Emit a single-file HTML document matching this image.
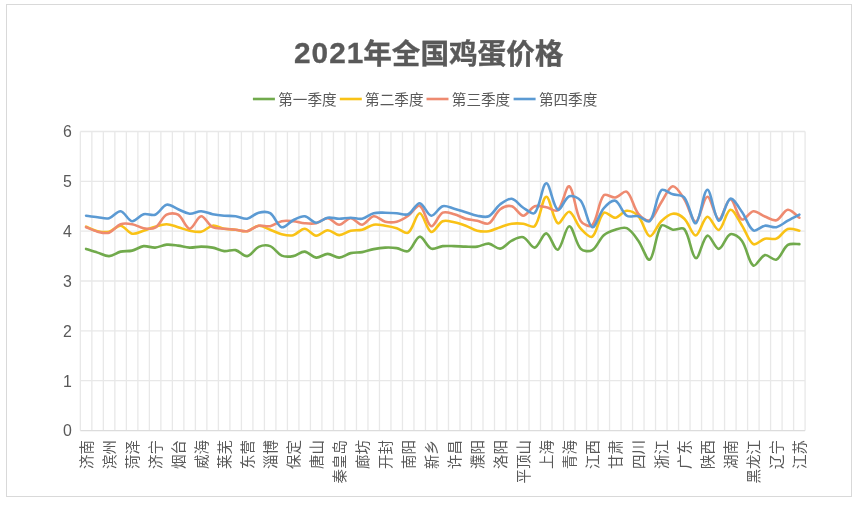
<!DOCTYPE html>
<html><head><meta charset="utf-8"><style>
html,body{margin:0;padding:0;background:#fff;}
body{width:858px;height:510px;overflow:hidden;position:relative;}
svg{position:absolute;left:0;top:0;filter:blur(0.35px);}
</style></head><body>
<svg width="858" height="510" viewBox="0 0 858 510">
<rect x="6.5" y="4.5" width="845" height="492" fill="#fff" stroke="#d9d9d9" stroke-width="1"/>
<g font-family="'Liberation Sans', 'Noto Sans CJK SC', sans-serif" font-weight="700" fill="#595959"><text x="294.0" y="62.9" font-size="29.8" letter-spacing="1.0" stroke="#595959" stroke-width="0.3">2021</text><text x="363.2" y="63.7" font-size="28.6" stroke="#595959" stroke-width="0.35">年全国鸡蛋价格</text></g>
<g stroke="#e8e8e8" stroke-width="1.3">
<line x1="80.35" y1="380.67" x2="805.10" y2="380.67"/>
<line x1="80.35" y1="330.84" x2="805.10" y2="330.84"/>
<line x1="80.35" y1="281.01" x2="805.10" y2="281.01"/>
<line x1="80.35" y1="231.18" x2="805.10" y2="231.18"/>
<line x1="80.35" y1="181.35" x2="805.10" y2="181.35"/>
<line x1="80.35" y1="131.52" x2="805.10" y2="131.52"/>
<line x1="80.35" y1="131.5" x2="80.35" y2="430.5"/>
<line x1="91.85" y1="131.5" x2="91.85" y2="430.5"/>
<line x1="103.36" y1="131.5" x2="103.36" y2="430.5"/>
<line x1="114.86" y1="131.5" x2="114.86" y2="430.5"/>
<line x1="126.37" y1="131.5" x2="126.37" y2="430.5"/>
<line x1="137.87" y1="131.5" x2="137.87" y2="430.5"/>
<line x1="149.37" y1="131.5" x2="149.37" y2="430.5"/>
<line x1="160.88" y1="131.5" x2="160.88" y2="430.5"/>
<line x1="172.38" y1="131.5" x2="172.38" y2="430.5"/>
<line x1="183.89" y1="131.5" x2="183.89" y2="430.5"/>
<line x1="195.39" y1="131.5" x2="195.39" y2="430.5"/>
<line x1="206.89" y1="131.5" x2="206.89" y2="430.5"/>
<line x1="218.40" y1="131.5" x2="218.40" y2="430.5"/>
<line x1="229.90" y1="131.5" x2="229.90" y2="430.5"/>
<line x1="241.41" y1="131.5" x2="241.41" y2="430.5"/>
<line x1="252.91" y1="131.5" x2="252.91" y2="430.5"/>
<line x1="264.41" y1="131.5" x2="264.41" y2="430.5"/>
<line x1="275.92" y1="131.5" x2="275.92" y2="430.5"/>
<line x1="287.42" y1="131.5" x2="287.42" y2="430.5"/>
<line x1="298.93" y1="131.5" x2="298.93" y2="430.5"/>
<line x1="310.43" y1="131.5" x2="310.43" y2="430.5"/>
<line x1="321.93" y1="131.5" x2="321.93" y2="430.5"/>
<line x1="333.44" y1="131.5" x2="333.44" y2="430.5"/>
<line x1="344.94" y1="131.5" x2="344.94" y2="430.5"/>
<line x1="356.45" y1="131.5" x2="356.45" y2="430.5"/>
<line x1="367.95" y1="131.5" x2="367.95" y2="430.5"/>
<line x1="379.45" y1="131.5" x2="379.45" y2="430.5"/>
<line x1="390.96" y1="131.5" x2="390.96" y2="430.5"/>
<line x1="402.46" y1="131.5" x2="402.46" y2="430.5"/>
<line x1="413.97" y1="131.5" x2="413.97" y2="430.5"/>
<line x1="425.47" y1="131.5" x2="425.47" y2="430.5"/>
<line x1="436.97" y1="131.5" x2="436.97" y2="430.5"/>
<line x1="448.48" y1="131.5" x2="448.48" y2="430.5"/>
<line x1="459.98" y1="131.5" x2="459.98" y2="430.5"/>
<line x1="471.48" y1="131.5" x2="471.48" y2="430.5"/>
<line x1="482.99" y1="131.5" x2="482.99" y2="430.5"/>
<line x1="494.49" y1="131.5" x2="494.49" y2="430.5"/>
<line x1="506.00" y1="131.5" x2="506.00" y2="430.5"/>
<line x1="517.50" y1="131.5" x2="517.50" y2="430.5"/>
<line x1="529.00" y1="131.5" x2="529.00" y2="430.5"/>
<line x1="540.51" y1="131.5" x2="540.51" y2="430.5"/>
<line x1="552.01" y1="131.5" x2="552.01" y2="430.5"/>
<line x1="563.52" y1="131.5" x2="563.52" y2="430.5"/>
<line x1="575.02" y1="131.5" x2="575.02" y2="430.5"/>
<line x1="586.52" y1="131.5" x2="586.52" y2="430.5"/>
<line x1="598.03" y1="131.5" x2="598.03" y2="430.5"/>
<line x1="609.53" y1="131.5" x2="609.53" y2="430.5"/>
<line x1="621.04" y1="131.5" x2="621.04" y2="430.5"/>
<line x1="632.54" y1="131.5" x2="632.54" y2="430.5"/>
<line x1="644.04" y1="131.5" x2="644.04" y2="430.5"/>
<line x1="655.55" y1="131.5" x2="655.55" y2="430.5"/>
<line x1="667.05" y1="131.5" x2="667.05" y2="430.5"/>
<line x1="678.56" y1="131.5" x2="678.56" y2="430.5"/>
<line x1="690.06" y1="131.5" x2="690.06" y2="430.5"/>
<line x1="701.56" y1="131.5" x2="701.56" y2="430.5"/>
<line x1="713.07" y1="131.5" x2="713.07" y2="430.5"/>
<line x1="724.57" y1="131.5" x2="724.57" y2="430.5"/>
<line x1="736.08" y1="131.5" x2="736.08" y2="430.5"/>
<line x1="747.58" y1="131.5" x2="747.58" y2="430.5"/>
<line x1="759.08" y1="131.5" x2="759.08" y2="430.5"/>
<line x1="770.59" y1="131.5" x2="770.59" y2="430.5"/>
<line x1="782.09" y1="131.5" x2="782.09" y2="430.5"/>
<line x1="793.60" y1="131.5" x2="793.60" y2="430.5"/>
<line x1="805.10" y1="131.5" x2="805.10" y2="430.5"/>
</g>
<line x1="80.35" y1="430.7" x2="805.1" y2="430.7" stroke="#dcdcdc" stroke-width="1.3"/>
<g font-family="'Liberation Sans', 'Noto Sans CJK SC', sans-serif" font-size="15.9" fill="#595959" text-anchor="end">
<text x="71.8" y="436.3">0</text>
<text x="71.8" y="386.5">1</text>
<text x="71.8" y="336.6">2</text>
<text x="71.8" y="286.8">3</text>
<text x="71.8" y="237.0">4</text>
<text x="71.8" y="187.2">5</text>
<text x="71.8" y="137.3">6</text>
</g>
<g font-family="'Liberation Sans', 'Noto Sans CJK SC', sans-serif" font-size="14.5" fill="#595959" text-anchor="end">
<text transform="translate(91.90 440) rotate(-90)" x="0" y="0">济南</text>
<text transform="translate(114.91 440) rotate(-90)" x="0" y="0">滨州</text>
<text transform="translate(137.92 440) rotate(-90)" x="0" y="0">菏泽</text>
<text transform="translate(160.93 440) rotate(-90)" x="0" y="0">济宁</text>
<text transform="translate(183.93 440) rotate(-90)" x="0" y="0">烟台</text>
<text transform="translate(206.94 440) rotate(-90)" x="0" y="0">威海</text>
<text transform="translate(229.95 440) rotate(-90)" x="0" y="0">莱芜</text>
<text transform="translate(252.96 440) rotate(-90)" x="0" y="0">东营</text>
<text transform="translate(275.97 440) rotate(-90)" x="0" y="0">淄博</text>
<text transform="translate(298.97 440) rotate(-90)" x="0" y="0">保定</text>
<text transform="translate(321.98 440) rotate(-90)" x="0" y="0">唐山</text>
<text transform="translate(344.99 440) rotate(-90)" x="0" y="0">秦皇岛</text>
<text transform="translate(368.00 440) rotate(-90)" x="0" y="0">廊坊</text>
<text transform="translate(391.01 440) rotate(-90)" x="0" y="0">开封</text>
<text transform="translate(414.01 440) rotate(-90)" x="0" y="0">南阳</text>
<text transform="translate(437.02 440) rotate(-90)" x="0" y="0">新乡</text>
<text transform="translate(460.03 440) rotate(-90)" x="0" y="0">许昌</text>
<text transform="translate(483.04 440) rotate(-90)" x="0" y="0">濮阳</text>
<text transform="translate(506.04 440) rotate(-90)" x="0" y="0">洛阳</text>
<text transform="translate(529.05 440) rotate(-90)" x="0" y="0">平顶山</text>
<text transform="translate(552.06 440) rotate(-90)" x="0" y="0">上海</text>
<text transform="translate(575.07 440) rotate(-90)" x="0" y="0">青海</text>
<text transform="translate(598.08 440) rotate(-90)" x="0" y="0">江西</text>
<text transform="translate(621.08 440) rotate(-90)" x="0" y="0">甘肃</text>
<text transform="translate(644.09 440) rotate(-90)" x="0" y="0">四川</text>
<text transform="translate(667.10 440) rotate(-90)" x="0" y="0">浙江</text>
<text transform="translate(690.11 440) rotate(-90)" x="0" y="0">广东</text>
<text transform="translate(713.12 440) rotate(-90)" x="0" y="0">陕西</text>
<text transform="translate(736.12 440) rotate(-90)" x="0" y="0">湖南</text>
<text transform="translate(759.13 440) rotate(-90)" x="0" y="0">黑龙江</text>
<text transform="translate(782.14 440) rotate(-90)" x="0" y="0">辽宁</text>
<text transform="translate(805.15 440) rotate(-90)" x="0" y="0">江苏</text>
</g>
<g fill="none" stroke-width="2.6" stroke-linejoin="round" stroke-linecap="round">
<path d="M86.10 248.89 C88.02 249.51 93.76 251.42 97.61 252.63 C101.43 253.83 105.33 256.28 109.11 256.12 C113.00 255.95 116.65 252.58 120.61 251.63 C124.32 250.75 128.41 251.52 132.12 250.63 C136.08 249.69 139.67 246.66 143.62 246.14 C147.34 245.66 151.34 247.89 155.13 247.64 C159.01 247.39 162.74 244.98 166.63 244.65 C170.41 244.32 174.32 245.15 178.13 245.65 C181.99 246.15 185.78 247.47 189.64 247.64 C193.45 247.81 197.31 246.64 201.14 246.64 C204.98 246.64 208.89 246.91 212.65 247.64 C216.56 248.40 220.24 250.71 224.15 251.13 C227.91 251.54 232.04 249.35 235.65 250.13 C239.71 251.01 243.57 256.63 247.16 256.12 C251.24 255.54 254.36 248.76 258.66 246.89 C262.03 245.43 266.82 244.88 270.17 246.14 C274.49 247.78 277.34 253.75 281.67 255.62 C285.01 257.07 289.47 256.76 293.17 256.12 C297.14 255.43 300.94 251.39 304.68 251.63 C308.61 251.89 312.21 257.23 316.18 257.62 C319.88 257.98 323.85 253.88 327.69 253.88 C331.52 253.88 335.39 257.74 339.19 257.62 C343.06 257.49 346.73 254.07 350.69 253.13 C354.40 252.24 358.42 252.79 362.20 252.13 C366.09 251.45 369.82 249.89 373.70 249.14 C377.49 248.40 381.36 247.81 385.21 247.64 C389.03 247.47 392.94 247.57 396.71 248.14 C400.60 248.73 405.21 252.63 408.21 251.13 C412.88 248.80 415.68 237.10 419.72 236.67 C423.35 236.27 426.73 246.79 431.22 248.64 C434.40 249.95 438.85 246.56 442.73 246.14 C446.52 245.73 450.40 246.06 454.23 246.14 C458.07 246.23 461.90 246.56 465.73 246.64 C469.57 246.73 473.47 247.13 477.24 246.64 C481.13 246.14 485.01 243.33 488.74 243.65 C492.68 243.99 496.62 249.11 500.24 248.64 C504.29 248.11 507.62 242.71 511.75 240.66 C515.29 238.89 519.91 236.15 523.25 237.17 C527.58 238.48 531.23 248.21 534.76 247.64 C538.90 246.97 542.59 233.11 546.26 233.42 C550.26 233.77 554.45 250.68 557.76 249.64 C562.12 248.27 565.38 226.32 569.27 226.19 C573.05 226.07 575.50 243.40 580.77 248.89 C583.17 251.38 589.36 251.87 592.28 250.13 C597.03 247.30 599.20 239.24 603.78 235.17 C606.87 232.42 611.27 230.90 615.28 229.68 C618.94 228.57 623.67 226.70 626.79 228.19 C631.34 230.36 634.97 236.12 638.29 240.66 C642.64 246.59 646.86 261.52 649.80 259.61 C654.53 256.53 655.58 233.14 661.30 225.69 C663.25 223.16 668.86 229.09 672.80 229.68 C676.53 230.25 682.24 226.63 684.31 229.18 C689.91 236.10 691.58 256.92 695.81 258.12 C699.24 259.08 702.79 237.48 707.32 235.67 C710.46 234.41 715.11 249.13 718.82 248.89 C722.78 248.63 725.83 235.78 730.32 234.17 C733.50 233.04 739.34 237.26 741.83 240.66 C747.01 247.73 748.44 262.52 753.33 265.60 C756.11 267.34 760.56 256.23 764.84 255.12 C768.23 254.24 773.29 260.97 776.34 259.61 C780.96 257.56 783.10 248.08 787.84 244.90 C790.77 242.93 797.43 244.27 799.35 244.15" stroke="#71AA4C"/>
<path d="M86.10 226.69 C88.02 227.44 93.64 230.32 97.61 231.18 C101.31 231.98 105.50 232.54 109.11 231.68 C113.17 230.71 116.93 225.37 120.61 225.69 C124.60 226.04 127.97 232.77 132.12 233.67 C135.64 234.44 139.83 231.83 143.62 230.68 C147.50 229.50 151.23 227.79 155.13 226.69 C158.90 225.63 162.81 224.11 166.63 224.20 C170.48 224.28 174.32 226.11 178.13 227.19 C181.99 228.28 185.73 229.92 189.64 230.68 C193.40 231.41 197.53 232.46 201.14 231.68 C205.20 230.80 208.64 226.21 212.65 225.69 C216.31 225.22 220.26 228.01 224.15 228.69 C227.93 229.34 231.83 229.27 235.65 229.68 C239.50 230.10 243.50 231.81 247.16 231.18 C251.17 230.48 254.74 225.95 258.66 225.69 C262.41 225.45 266.36 228.28 270.17 229.68 C274.03 231.11 277.71 233.23 281.67 234.17 C285.38 235.06 289.60 236.02 293.17 235.17 C297.26 234.19 300.88 228.60 304.68 228.69 C308.55 228.77 312.24 235.41 316.18 235.67 C319.91 235.91 323.82 230.27 327.69 230.18 C331.49 230.10 335.33 235.09 339.19 235.17 C342.99 235.25 346.73 231.63 350.69 230.68 C354.40 229.80 358.52 230.64 362.20 229.68 C366.19 228.64 369.71 225.39 373.70 224.70 C377.38 224.06 381.41 225.12 385.21 225.69 C389.08 226.28 392.97 227.05 396.71 228.19 C400.64 229.38 405.50 234.44 408.21 232.68 C413.17 229.45 415.83 213.35 419.72 213.22 C423.50 213.10 426.75 230.38 431.22 231.93 C434.42 233.04 438.30 223.07 442.73 221.20 C445.97 219.83 450.47 221.47 454.23 222.20 C458.14 222.96 461.98 224.31 465.73 225.69 C469.65 227.14 473.24 229.73 477.24 230.68 C480.91 231.56 485.01 231.75 488.74 231.18 C492.68 230.58 496.39 228.44 500.24 227.19 C504.06 225.95 507.83 224.29 511.75 223.70 C515.50 223.13 519.46 223.29 523.25 223.70 C527.13 224.12 532.68 228.63 534.76 226.19 C540.34 219.65 542.25 197.28 546.26 196.76 C549.92 196.29 552.86 220.01 557.76 223.20 C560.53 225.00 565.88 210.92 569.27 211.73 C573.55 212.75 576.22 223.75 580.77 228.69 C583.89 232.06 589.63 238.50 592.28 236.67 C597.30 233.18 598.57 217.02 603.78 212.72 C606.24 210.70 611.59 218.03 615.28 217.71 C619.25 217.37 622.85 210.99 626.79 210.73 C630.52 210.49 635.56 213.20 638.29 216.22 C643.23 221.67 645.58 235.25 649.80 236.17 C653.25 236.92 656.86 225.54 661.30 221.20 C664.53 218.05 668.80 214.16 672.80 213.72 C676.47 213.33 681.38 215.95 684.31 218.71 C689.05 223.18 692.13 235.74 695.81 235.42 C699.80 235.07 703.05 217.73 707.32 216.71 C710.72 215.90 715.52 230.93 718.82 229.93 C723.19 228.61 726.13 210.60 730.32 209.73 C733.80 209.02 738.26 219.86 741.83 225.19 C745.93 231.33 748.46 241.30 753.33 244.15 C756.13 245.79 760.81 239.62 764.84 238.66 C768.47 237.79 773.02 240.07 776.34 238.66 C780.69 236.82 783.52 230.44 787.84 228.94 C791.19 227.78 797.43 230.39 799.35 230.68" stroke="#F9C216"/>
<path d="M86.10 227.19 C88.02 227.94 93.64 230.73 97.61 231.68 C101.31 232.56 105.68 233.79 109.11 232.68 C113.35 231.30 116.36 225.76 120.61 224.20 C124.03 222.94 128.39 223.55 132.12 224.20 C136.06 224.88 139.68 227.59 143.62 228.19 C147.35 228.75 152.06 229.48 155.13 227.69 C159.73 224.99 162.02 217.32 166.63 214.72 C169.69 213.00 175.15 212.91 178.13 214.72 C182.82 217.57 185.68 228.43 189.64 228.69 C193.35 228.93 197.18 216.47 201.14 216.22 C204.85 215.97 208.21 224.79 212.65 227.19 C215.88 228.94 220.31 228.27 224.15 228.69 C227.98 229.10 231.83 229.27 235.65 229.68 C239.50 230.10 243.50 231.81 247.16 231.18 C251.17 230.48 254.63 226.57 258.66 225.69 C262.30 224.90 266.49 226.91 270.17 226.19 C274.16 225.41 277.67 222.07 281.67 221.20 C285.34 220.41 289.37 220.87 293.17 221.20 C297.04 221.54 300.81 222.86 304.68 223.20 C308.48 223.53 312.51 223.99 316.18 223.20 C320.18 222.33 323.95 217.97 327.69 218.21 C331.62 218.47 335.35 224.70 339.19 224.70 C343.02 224.70 346.86 218.21 350.69 218.21 C354.53 218.21 358.51 225.02 362.20 224.70 C366.18 224.35 369.65 216.74 373.70 216.22 C377.32 215.75 381.17 220.74 385.21 221.70 C388.84 222.57 393.10 222.64 396.71 221.70 C400.77 220.65 404.69 218.16 408.21 215.72 C412.35 212.84 416.70 204.37 419.72 205.74 C424.37 207.86 426.85 224.87 431.22 226.19 C434.52 227.19 438.09 215.14 442.73 212.72 C445.76 211.15 450.51 213.25 454.23 214.22 C458.18 215.25 461.79 217.60 465.73 218.71 C469.46 219.76 473.43 219.92 477.24 220.71 C481.10 221.50 485.73 224.95 488.74 223.45 C493.40 221.13 495.60 212.71 500.24 209.23 C503.27 206.97 508.35 205.28 511.75 206.24 C516.02 207.44 519.42 215.72 523.25 215.72 C527.09 215.72 530.44 207.83 534.76 206.24 C538.10 205.01 542.48 206.58 546.26 207.24 C550.15 207.91 555.39 212.39 557.76 210.23 C563.06 205.41 566.05 184.75 569.27 186.29 C573.72 188.41 575.01 211.46 580.77 221.20 C582.68 224.43 590.17 227.57 592.28 225.19 C597.84 218.93 598.16 202.02 603.78 195.27 C605.83 192.80 611.63 198.07 615.28 197.51 C619.30 196.90 624.17 189.93 626.79 191.77 C631.84 195.33 633.29 207.54 638.29 213.72 C640.96 217.02 646.86 221.67 649.80 220.21 C654.53 217.84 657.31 208.13 661.30 202.25 C664.98 196.82 668.73 186.82 672.80 186.29 C676.40 185.82 681.18 194.45 684.31 199.26 C688.85 206.25 692.14 222.10 695.81 221.70 C699.81 221.27 703.32 197.20 707.32 196.76 C710.99 196.36 714.81 218.77 718.82 219.21 C722.48 219.61 726.51 199.22 730.32 199.26 C734.18 199.30 737.06 216.98 741.83 219.46 C744.73 220.97 749.28 211.75 753.33 211.23 C756.95 210.76 760.92 214.94 764.84 216.47 C768.59 217.93 772.99 221.19 776.34 220.21 C780.65 218.94 783.81 210.17 787.84 209.73 C791.48 209.34 797.43 216.38 799.35 217.71" stroke="#EE8A70"/>
<path d="M86.10 215.72 C88.02 215.97 93.76 216.80 97.61 217.21 C101.43 217.63 105.57 219.13 109.11 218.21 C113.24 217.14 117.02 210.76 120.61 211.23 C124.69 211.76 128.05 220.67 132.12 221.20 C135.72 221.67 139.49 215.39 143.62 214.22 C147.16 213.22 151.82 216.08 155.13 214.72 C159.49 212.92 162.39 205.75 166.63 204.74 C170.06 203.92 174.30 207.74 178.13 209.23 C181.97 210.73 185.71 213.38 189.64 213.72 C193.38 214.05 197.33 211.15 201.14 211.23 C205.00 211.31 208.76 213.46 212.65 214.22 C216.43 214.96 220.30 215.38 224.15 215.72 C227.97 216.05 231.86 215.72 235.65 216.22 C239.53 216.72 243.51 219.26 247.16 218.71 C251.18 218.10 254.60 213.69 258.66 212.72 C262.27 211.86 267.18 211.35 270.17 213.22 C274.85 216.17 277.27 225.85 281.67 227.19 C284.94 228.18 289.15 222.13 293.17 220.21 C296.82 218.47 301.00 215.82 304.68 216.22 C308.67 216.65 312.25 222.44 316.18 222.70 C319.92 222.94 323.69 218.40 327.69 217.71 C331.36 217.07 335.35 218.71 339.19 218.71 C343.02 218.71 346.86 217.71 350.69 217.71 C354.53 217.71 358.55 219.42 362.20 218.71 C366.22 217.92 369.67 214.27 373.70 213.22 C377.34 212.28 381.37 212.72 385.21 212.72 C389.04 212.72 392.88 212.97 396.71 213.22 C400.55 213.47 404.99 215.62 408.21 214.22 C412.66 212.29 416.01 203.01 419.72 203.25 C423.68 203.50 427.14 215.19 431.22 215.72 C434.81 216.18 438.44 207.54 442.73 206.24 C446.11 205.21 450.43 207.75 454.23 208.73 C458.10 209.74 461.90 211.06 465.73 212.23 C469.57 213.39 473.32 215.04 477.24 215.72 C480.99 216.37 485.60 217.78 488.74 216.22 C493.27 213.96 495.91 207.54 500.24 204.24 C503.58 201.72 508.17 198.22 511.75 198.76 C515.84 199.38 519.14 205.20 523.25 207.74 C526.81 209.94 532.58 215.29 534.76 212.97 C540.25 207.14 542.24 183.86 546.26 183.30 C549.91 182.78 553.01 207.05 557.76 209.73 C560.68 211.38 564.75 198.03 569.27 196.26 C572.42 195.03 578.47 197.66 580.77 200.75 C586.14 207.97 587.94 225.78 592.28 227.19 C595.61 228.27 599.04 213.68 603.78 208.24 C606.71 204.87 612.06 199.70 615.28 200.75 C619.73 202.20 622.03 212.52 626.79 215.72 C629.69 217.67 634.62 215.34 638.29 216.22 C642.29 217.17 647.68 223.58 649.80 221.20 C655.35 214.94 655.70 196.84 661.30 190.28 C663.37 187.86 668.93 193.05 672.80 194.27 C676.60 195.46 682.02 194.64 684.31 197.51 C689.69 204.28 692.41 224.34 695.81 223.20 C700.08 221.76 703.35 190.21 707.32 189.78 C711.02 189.38 714.44 219.00 718.82 220.71 C722.11 221.99 725.81 200.52 730.32 198.76 C733.48 197.53 738.44 207.07 741.83 211.73 C746.11 217.63 748.44 227.46 753.33 230.43 C756.11 232.12 760.87 226.25 764.84 225.69 C768.54 225.17 772.75 227.97 776.34 227.19 C780.42 226.30 783.97 222.80 787.84 220.71 C791.64 218.65 797.43 215.72 799.35 214.72" stroke="#5B9AD3"/>
</g>
<g stroke-width="2.6" font-family="'Liberation Sans', 'Noto Sans CJK SC', sans-serif" font-size="14.6" fill="#595959">
<line x1="252.9" y1="99" x2="274.9" y2="99" stroke="#71AA4C"/>
<text x="278.2" y="104.5">第一季度</text>
<line x1="339.8" y1="99" x2="361.8" y2="99" stroke="#F9C216"/>
<text x="365.1" y="104.5">第二季度</text>
<line x1="426.5" y1="99" x2="448.5" y2="99" stroke="#EE8A70"/>
<text x="451.8" y="104.5">第三季度</text>
<line x1="513.6" y1="99" x2="535.6" y2="99" stroke="#5B9AD3"/>
<text x="538.9" y="104.5">第四季度</text>
</g>
</svg>
</body></html>
